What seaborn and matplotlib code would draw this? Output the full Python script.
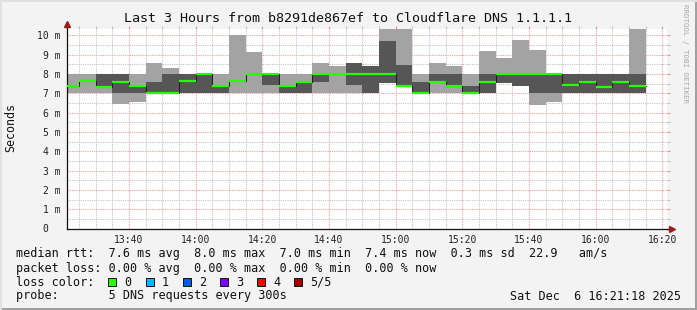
import numpy as np
import pandas as pd
import matplotlib
matplotlib.use("Agg")
import matplotlib.pyplot as plt
import seaborn as sns
from matplotlib.patches import Rectangle

# ---------------- data ----------------
step_start = ["13:20", "13:25", "13:30", "13:35", "13:40", "13:45", "13:50", "13:55",
              "14:00", "14:05", "14:10", "14:15", "14:20", "14:25", "14:30", "14:35",
              "14:40", "14:45", "14:50", "14:55", "15:00", "15:05", "15:10", "15:15",
              "15:20", "15:25", "15:30", "15:35", "15:40", "15:45", "15:50", "15:55",
              "16:00", "16:05", "16:10"]
ping_min = [7.0, 7.0, 7.0, 6.43, 6.55, 7.0, 7.0, 7.0, 7.0, 7.0, 7.0, 7.0,
            7.0, 7.0, 7.0, 7.0, 7.0, 7.0, 7.0, 7.55, 7.38, 7.0, 7.0, 7.0,
            7.0, 7.0, 7.55, 7.4, 6.4, 6.55, 7.0, 7.0, 7.0, 7.0, 7.0]
ping_p2 = [7.38, 7.62, 7.33, 7.0, 7.0, 7.0, 7.0, 7.0, 7.0, 7.0, 7.65, 8.0,
           7.41, 7.0, 7.0, 7.59, 8.0, 7.41, 7.0, 7.55, 7.38, 7.0, 7.57, 7.38,
           7.0, 7.0, 7.55, 7.4, 7.0, 7.0, 7.0, 7.0, 7.0, 7.0, 7.0]
ping_median = [7.38, 7.62, 7.33, 7.57, 7.37, 7.0, 7.0, 7.65, 8.0, 7.4, 7.65, 8.0,
               8.0, 7.4, 7.57, 8.0, 8.0, 8.0, 8.0, 8.0, 7.38, 7.0, 7.57, 7.38,
               7.0, 7.6, 8.0, 8.0, 8.0, 8.0, 7.41, 7.59, 7.33, 7.57, 7.36]
ping_p4 = [7.38, 7.62, 8.0, 8.0, 7.37, 7.59, 8.0, 8.0, 8.0, 7.4, 7.65, 8.0,
           8.0, 7.4, 7.57, 8.0, 8.0, 8.57, 8.4, 9.71, 8.47, 7.59, 8.0, 8.0,
           7.38, 8.0, 8.0, 8.0, 8.0, 8.0, 8.0, 8.0, 8.0, 8.0, 8.0]
ping_max = [8.0, 8.0, 8.0, 8.0, 8.0, 8.57, 8.31, 8.0, 8.0, 8.0, 10.0, 9.14,
            8.0, 8.0, 8.0, 8.57, 8.43, 8.57, 8.4, 10.6, 10.6, 8.0, 8.57, 8.4,
            8.0, 9.19, 8.84, 9.76, 9.24, 8.0, 8.0, 8.0, 8.0, 8.0, 10.6]

x_tick_labels = ["13:40", "14:00", "14:20", "14:40", "15:00", "15:20", "15:40", "16:00", "16:20"]
y_tick_values = [0, 1, 2, 3, 4, 5, 6, 7, 8, 9, 10]
y_tick_labels = ["0  ", "1 m", "2 m", "3 m", "4 m", "5 m", "6 m", "7 m", "8 m", "9 m", "10 m"]

loss_labels = ["0", "1", "2", "3", "4", "5/5"]
loss_colors = ["#26ff00", "#00b8ff", "#0059ff", "#7e00ff", "#ff0000", "#a10000"]

title = "Last 3 Hours from b8291de867ef to Cloudflare DNS 1.1.1.1"
legend_lines = [
    "median rtt:  7.6 ms avg  8.0 ms max  7.0 ms min  7.4 ms now  0.3 ms sd  22.9   am/s",
    "packet loss: 0.00 % avg  0.00 % max  0.00 % min  0.00 % now",
    "loss color:",
    "probe:       5 DNS requests every 300s",
]
date_text = "Sat Dec  6 16:21:18 2025"
start_time = "13:21:18"
end_time = "16:21:18"
step_minutes = 5


def to_min(s):
    parts = [int(p) for p in s.split(":")]
    m = (parts[0] - 13) * 60 + parts[1]
    if len(parts) > 2:
        m += parts[2] / 60.0
    return m


df = pd.DataFrame({
    "t": [to_min(s) for s in step_start],
    "lo": ping_min, "p2": ping_p2, "med": ping_median, "p4": ping_p4, "hi": ping_max,
})

# ---------------- figure ----------------
sns.set_theme(style="white")
plt.rcParams["font.family"] = ["DejaVu Sans Mono", "DejaVu Sans"]

W, H = 697, 310
BG = "#f3f3f3"
fig = plt.figure(figsize=(W / 100, H / 100), dpi=100, facecolor=BG)
ax = fig.add_axes([66.7 / W, 1 - 228.5 / H, 600 / W, 200 / H])
ax.set_facecolor("white")

edges = np.append(df["t"].values, df["t"].values[-1] + step_minutes)


def ext(col):
    v = df[col].values
    return np.append(v, v[-1])


ax.fill_between(edges, ext("lo"), ext("hi"), step="post", color="#a3a3a3", lw=0, zorder=2)
ax.fill_between(edges, ext("p2"), ext("p4"), step="post", color="#565656", lw=0, zorder=3)

med_df = pd.DataFrame({"t": edges, "med": ext("med")})
sns.lineplot(data=med_df, x="t", y="med", drawstyle="steps-post", color="#202020",
             lw=0.75, ax=ax, zorder=4, sort=False)
ax.hlines(df["med"], df["t"], df["t"] + step_minutes, colors=loss_colors[0], lw=1.6, zorder=5)

# axes ranges / ticks
ax.set_xlim(to_min(start_time), to_min(end_time))
ax.set_ylim(0, 10.36)
ax.set_xticks([to_min(s) for s in x_tick_labels])
ax.set_xticklabels(x_tick_labels)
ax.set_xticks(np.arange(25, 201, 5), minor=True)
ax.set_yticks(y_tick_values)
ax.set_yticklabels(y_tick_labels)
ax.set_yticks(np.arange(0.5, 10.4, 1.0), minor=True)
ax.set_xlabel("")
ax.set_ylabel("")

ax.grid(which="major", color="#f2a0a0", ls=(0, (1, 1)), lw=0.8)
ax.grid(which="minor", color="#c4c4c4", ls=(0, (1, 1)), lw=0.8)
ax.set_axisbelow(True)

ax.tick_params(axis="both", which="major", direction="out", length=2.2, width=0.8,
               color="#e89090", labelsize=7, labelcolor="#222222", pad=2.4)
ax.tick_params(axis="both", which="minor", direction="out", length=2.2, width=0.8,
               color="#c0c0c0")
ax.tick_params(top=True, right=True, which="both")
for lab in ax.get_xticklabels() + ax.get_yticklabels():
    lab.set_family("DejaVu Sans Mono")

for s in ["top", "right"]:
    ax.spines[s].set_visible(False)
for s in ["left", "bottom"]:
    ax.spines[s].set_color("#111111")
    ax.spines[s].set_linewidth(0.9)

# axis extensions + arrows
ax.plot([0, 0], [1, 1.02], transform=ax.transAxes, color="#111111", lw=0.9, clip_on=False)
ax.plot([1, 1.008], [0, 0], transform=ax.transAxes, color="#111111", lw=0.9, clip_on=False)
ax.plot([0], [1.025], marker="^", ms=4.5, color="#9c1c1c", transform=ax.transAxes, clip_on=False)
ax.plot([1.009], [0], marker=">", ms=4.5, color="#9c1c1c", transform=ax.transAxes, clip_on=False)


def fx(px):
    return px / W


def fy(py):
    return 1 - py / H


mono = "DejaVu Sans Mono"
fig.text(fx(348.5), fy(19), title, ha="center", va="center", fontsize=9.6,
         family=mono, color="#111111")
fig.text(fx(10.5), fy(127.5), "Seconds", rotation=90, ha="center", va="center",
         fontsize=8.4, family=mono, color="#111111")
fig.text(fx(685.5), fy(4), "RRDTOOL / TOBI OETIKER", rotation=270, ha="center", va="top",
         fontsize=5.4, family=mono, color="#a8a8a8")

line_y = [254, 268.3, 282.3, 296]
for txt, yy in zip(legend_lines, line_y):
    fig.text(fx(16), fy(yy), txt, ha="left", va="center", fontsize=8.5, family=mono,
             color="#111111")
fig.text(fx(681), fy(296), date_text, ha="right", va="center", fontsize=8.5, family=mono,
         color="#111111")

box_x = [108, 145.7, 183, 219.7, 257, 293.7]
for bx, lab, col in zip(box_x, loss_labels, loss_colors):
    fig.patches.append(Rectangle((fx(bx), fy(286)), 8 / W, 8 / H, transform=fig.transFigure,
                                 facecolor=col, edgecolor="#111111", lw=0.7))
    fig.text(fx(bx + 16), fy(282.3), lab, ha="left", va="center", fontsize=8.5,
             family=mono, color="#111111")

# 3D frame around the canvas
fig.patches.append(Rectangle((0, 0), 1, 2.5 / H, transform=fig.transFigure,
                             facecolor="#a0a0a0", edgecolor="none"))
fig.patches.append(Rectangle((1 - 2.5 / W, 0), 2.5 / W, 1, transform=fig.transFigure,
                             facecolor="#a0a0a0", edgecolor="none"))
fig.patches.append(Rectangle((0, 1 - 1.5 / H), 1, 1.5 / H, transform=fig.transFigure,
                             facecolor="#e0e0e0", edgecolor="none"))
fig.patches.append(Rectangle((0, 0), 1.5 / W, 1, transform=fig.transFigure,
                             facecolor="#e0e0e0", edgecolor="none"))

fig.savefig("out.png", dpi=100, facecolor=BG)
